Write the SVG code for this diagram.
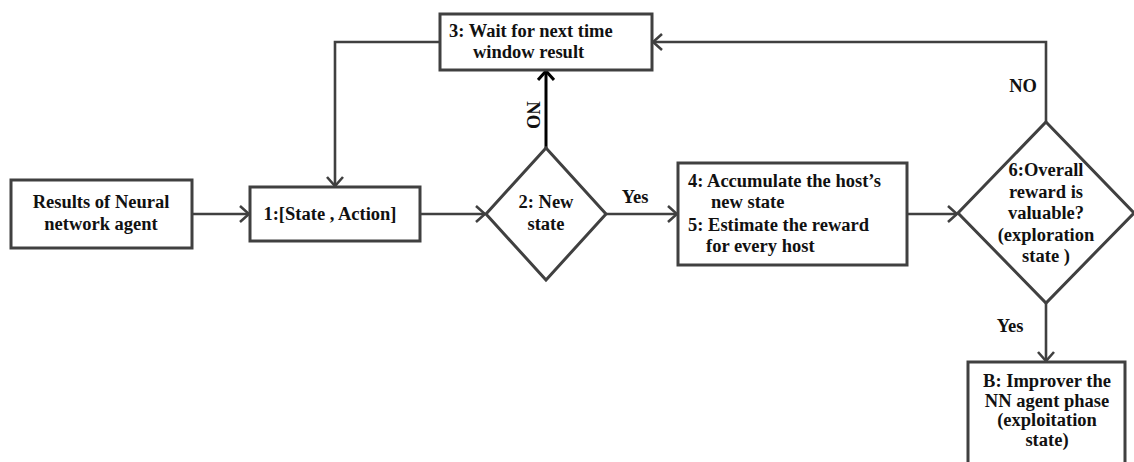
<svg xmlns="http://www.w3.org/2000/svg" width="1134" height="462" viewBox="0 0 1134 462">
  <style>
    .shape { fill: #ffffff; stroke: #404040; stroke-width: 3; }
    .conn { fill: none; stroke: #404040; stroke-width: 2.6; }
    .conn-dark { fill: none; stroke: #000000; stroke-width: 3; }
    text { font-family: "Liberation Serif", "Times New Roman", serif; font-weight: bold; font-size: 18.5px; fill: #111111; }
    .mid { text-anchor: middle; }
  </style>
  <defs>
    <marker id="chev" viewBox="0 0 11 18" refX="10" refY="9" markerWidth="11" markerHeight="18" markerUnits="userSpaceOnUse" orient="auto">
      <path d="M1,1 L10,9 L1,17" fill="none" stroke="#404040" stroke-width="2.6"/>
    </marker>
    <marker id="chev-dark" viewBox="0 0 11 18" refX="10" refY="9" markerWidth="11" markerHeight="18" markerUnits="userSpaceOnUse" orient="auto">
      <path d="M1,1 L10,9 L1,17" fill="none" stroke="#000000" stroke-width="3"/>
    </marker>
  </defs>

  <rect width="1134" height="462" fill="#ffffff"/>

  <!-- connectors -->
  <g id="connectors">
    <line class="conn" x1="192" y1="214" x2="249" y2="214" marker-end="url(#chev)"/>
    <line class="conn" x1="420" y1="214" x2="485" y2="214" marker-end="url(#chev)"/>
    <line class="conn" x1="606" y1="214" x2="677" y2="214" marker-end="url(#chev)"/>
    <line class="conn" x1="907" y1="214" x2="957" y2="214" marker-end="url(#chev)"/>
    <line class="conn-dark" x1="546" y1="148" x2="546" y2="71" marker-end="url(#chev-dark)"/>
    <polyline class="conn" points="440,42 335,42 335,186" marker-end="url(#chev)"/>
    <polyline class="conn" points="1046,122 1046,42 653,42" marker-end="url(#chev)"/>
    <line class="conn" x1="1046" y1="303" x2="1046" y2="361" marker-end="url(#chev)"/>
    <text class="mid" x="635" y="203">Yes</text>
    <text class="mid" x="1023" y="92">NO</text>
    <text class="mid" x="1010" y="332">Yes</text>
    <text class="mid" transform="translate(527,115) rotate(90)">NO</text>
  </g>

  <g id="node-results">
    <rect class="shape" x="11" y="180" width="181" height="68"/>
    <text class="mid" x="101" y="208">Results of Neural</text>
    <text class="mid" x="101" y="230">network agent</text>
  </g>

  <g id="node-1">
    <rect class="shape" x="250" y="187" width="170" height="54"/>
    <text class="mid" x="330" y="220">1:[State , Action]</text>
  </g>

  <g id="node-2">
    <polygon class="shape" points="546,148 606,214 546,280 486,214"/>
    <text class="mid" x="546" y="208">2: New</text>
    <text class="mid" x="546" y="230">state</text>
  </g>

  <g id="node-3">
    <rect class="shape" x="440" y="14" width="212" height="56"/>
    <text x="449" y="37">3: Wait for next time</text>
    <text x="473" y="58">window result</text>
  </g>

  <g id="node-4-5">
    <rect class="shape" x="678" y="163" width="229" height="102"/>
    <text x="688" y="187">4: Accumulate the host’s</text>
    <text x="711" y="208">new state</text>
    <text x="688" y="231">5: Estimate the reward</text>
    <text x="706" y="252">for every host</text>
  </g>

  <g id="node-6">
    <polygon class="shape" points="1046,122 1134,213 1046,303 958,213"/>
    <text class="mid" x="1046" y="176">6:Overall</text>
    <text class="mid" x="1046" y="198">reward is</text>
    <text class="mid" x="1046" y="219">valuable?</text>
    <text class="mid" x="1046" y="241">(exploration</text>
    <text class="mid" x="1046" y="262">state )</text>
  </g>

  <g id="node-B">
    <path class="shape" d="M968,470 L968,362 L1125,362 L1125,470"/>
    <text class="mid" x="1047" y="387">B: Improver the</text>
    <text class="mid" x="1047" y="407">NN agent phase</text>
    <text class="mid" x="1047" y="426">(exploitation</text>
    <text class="mid" x="1047" y="446">state)</text>
  </g>
</svg>
